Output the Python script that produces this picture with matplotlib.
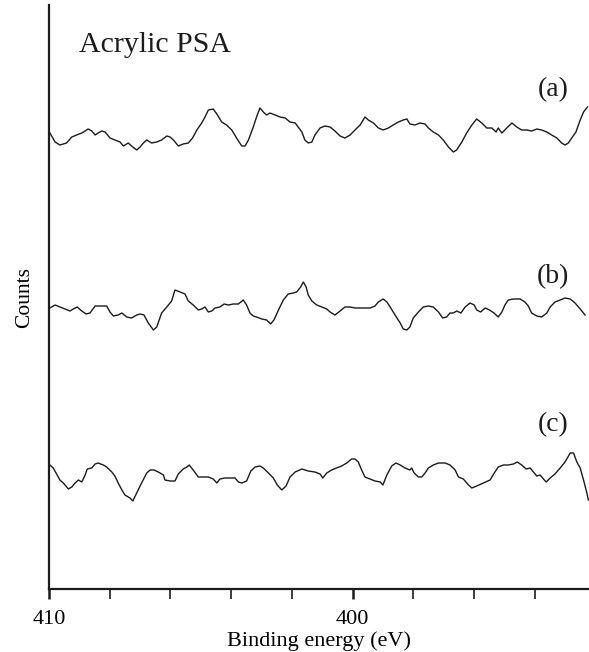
import matplotlib
matplotlib.use('Agg')
import matplotlib.pyplot as plt
from matplotlib.ticker import MultipleLocator

plt.rcParams['font.family'] = ['Liberation Serif', 'DejaVu Serif']

energy_a = [409.97, 409.80, 409.64, 409.42, 409.25, 409.09, 408.92, 408.81, 408.71, 408.59,
            408.48, 408.38, 408.26, 408.15, 407.99, 407.83, 407.66, 407.55, 407.39, 407.24,
            407.11, 407.00, 406.89, 406.78, 406.62, 406.45, 406.29, 406.12, 406.01, 405.90,
            405.74, 405.58, 405.41, 405.27, 405.13, 404.97, 404.86, 404.75, 404.59, 404.45,
            404.31, 404.15, 403.98, 403.82, 403.65, 403.54, 403.43, 403.27, 403.14, 403.05,
            402.94, 402.83, 402.72, 402.55, 402.39, 402.22, 402.06, 401.89,
            401.84, 401.67, 401.57, 401.46, 401.34, 401.24, 401.07, 400.91, 400.74, 400.58,
            400.41, 400.25, 400.08, 399.92, 399.75, 399.59, 399.48, 399.31, 399.15, 398.99,
            398.82, 398.66, 398.49, 398.33, 398.21, 398.11, 397.94, 397.78, 397.61, 397.50,
            397.34, 397.17, 397.01, 396.84, 396.68, 396.57, 396.40, 396.24, 396.07, 395.91,
            395.74, 395.58, 395.41, 395.27, 395.20, 395.08, 394.92, 394.75, 394.59, 394.43,
            394.26, 394.10, 393.93, 393.77, 393.60, 393.44, 393.27, 393.11, 393.00, 392.89,
            392.78, 392.64, 392.50, 392.39, 392.26]
counts_a = [456, 447, 444, 446, 452, 454, 456, 458, 460, 458,
            454, 456, 458, 457, 451, 449, 447, 443, 446, 442,
            439, 442, 446, 449, 446, 447, 449, 453, 452, 449,
            443, 445, 446, 451, 459, 466, 472, 479, 480, 474,
            467, 464, 459, 451, 443, 443, 449, 462, 474, 481,
            477, 474, 476, 474, 472, 471, 467, 466,
            464, 457, 449, 446, 447, 454, 461, 463, 462, 458,
            453, 451, 454, 459, 464, 472, 469, 466, 461, 459,
            461, 464, 467, 469, 470, 465, 464, 466, 465, 461,
            457, 454, 449, 442, 437, 439, 447, 456, 464, 470,
            466, 461, 461, 457, 461, 456, 461, 466, 462, 459,
            459, 458, 460, 459, 457, 454, 451, 446, 444, 446,
            451, 457, 469, 477, 482]

energy_b = [409.97, 409.80, 409.64, 409.47, 409.31, 409.20, 409.07, 408.92, 408.78, 408.65,
            408.48, 408.32, 408.10, 407.99, 407.88, 407.72, 407.60, 407.44, 407.28, 407.11,
            407.00, 406.87, 406.73, 406.56, 406.45, 406.29, 406.12, 405.96, 405.85, 405.68,
            405.52, 405.41, 405.25, 405.08, 404.97, 404.86, 404.75, 404.64, 404.53, 404.37,
            404.23, 404.09, 403.93, 403.76, 403.60, 403.49, 403.38, 403.27, 403.16, 402.99,
            402.83, 402.70, 402.59, 402.44, 402.28, 402.12, 401.95,
            401.84, 401.71, 401.62, 401.53, 401.46, 401.34, 401.18, 401.01, 400.85, 400.74,
            400.58, 400.41, 400.25, 400.08, 399.92, 399.75, 399.59, 399.42, 399.26, 399.15,
            398.99, 398.87, 398.76, 398.60, 398.43, 398.33, 398.21, 398.11, 398.00, 397.83,
            397.67, 397.50, 397.34, 397.17, 397.03, 396.90, 396.79, 396.68, 396.57, 396.43,
            396.29, 396.13, 395.99, 395.91, 395.78, 395.63, 395.49, 395.34, 395.20, 395.08,
            394.98, 394.87, 394.70, 394.48, 394.32, 394.21, 394.10, 393.93, 393.77, 393.60,
            393.49, 393.33, 393.16, 393.00, 392.83, 392.67, 392.50, 392.34]
counts_b = [281, 284, 282, 280, 278, 280, 282, 278, 275, 276,
            283, 283, 283, 277, 273, 274, 276, 272, 271, 274,
            275, 274, 266, 259, 262, 276, 282, 288, 299, 297,
            295, 288, 284, 279, 280, 282, 277, 278, 281, 282,
            285, 284, 285, 285, 289, 284, 276, 273, 272, 270,
            269, 265, 269, 279, 289, 295, 296,
            297, 302, 307, 302, 294, 288, 284, 282, 280, 277,
            274, 278, 282, 282, 281, 281, 281, 281, 283, 287,
            290, 287, 282, 274, 266, 260, 259, 262, 271, 277,
            282, 283, 282, 277, 271, 272, 276, 276, 278, 276,
            282, 286, 284, 279, 277, 281, 279, 276, 272, 277,
            284, 289, 290, 290, 287, 283, 276, 273, 272, 276,
            282, 287, 289, 291, 290, 286, 280, 274]

energy_c = [409.97, 409.86, 409.75, 409.64, 409.53, 409.36, 409.25, 409.14, 409.03, 408.92,
            408.81, 408.74, 408.59, 408.48, 408.38, 408.21, 408.10, 407.93, 407.83, 407.72,
            407.60, 407.50, 407.33, 407.24, 407.11, 406.95, 406.78, 406.67, 406.54, 406.40,
            406.23, 406.18, 406.01, 405.85, 405.74, 405.58, 405.46, 405.38, 405.25, 405.08,
            404.92, 404.75, 404.59, 404.47, 404.37, 404.20, 404.04, 403.87, 403.76, 403.65,
            403.49, 403.35, 403.21, 403.05, 402.94, 402.77, 402.61, 402.48, 402.33, 402.19,
            402.06,
            401.89, 401.67, 401.46, 401.24, 401.07, 400.98, 400.85, 400.69, 400.52, 400.36,
            400.19, 400.03, 399.92, 399.81, 399.70, 399.59, 399.42, 399.26, 399.09, 399.00,
            398.87, 398.71, 398.57, 398.43, 398.27, 398.11, 398.05, 397.97, 397.83, 397.72,
            397.61, 397.50, 397.34, 397.17, 396.95, 396.79, 396.62, 396.51, 396.35, 396.18,
            396.07, 395.91, 395.69, 395.47, 395.31, 395.20, 395.03, 394.87, 394.70, 394.57,
            394.43, 394.28, 394.15, 394.04, 393.93, 393.82, 393.71, 393.62, 393.49, 393.33,
            393.16, 393.00, 392.83, 392.72, 392.61, 392.50, 392.39, 392.28, 392.23]
counts_c = [124, 121, 115, 109, 106, 100, 102, 106, 109, 107,
            114, 120, 121, 125, 126, 124, 122, 117, 113, 106,
            99, 94, 91, 88, 96, 106, 116, 119, 119, 117,
            114, 109, 108, 108, 115, 120, 122, 124, 119, 112,
            112, 112, 110, 106, 110, 111, 111, 111, 107, 106,
            108, 118, 122, 123, 121, 116, 111, 104, 99, 103,
            112,
            117, 120, 118, 117, 115, 111, 116, 119, 121, 123,
            126, 130, 130, 127, 119, 112, 110, 108, 107, 104,
            114, 123, 126, 124, 121, 119, 121, 116, 112, 112,
            116, 121, 124, 126, 126, 124, 119, 112, 110, 104,
            101, 103, 106, 109, 117, 122, 124, 124, 125, 127,
            124, 120, 121, 117, 113, 114, 110, 107, 111, 115,
            121, 127, 136, 136, 127, 121, 109, 96, 89]

labels = ['(a)', '(b)', '(c)']
label_y = [499, 312, 164]

fig = plt.figure(figsize=(5.89, 6.52), dpi=100)
ax = fig.add_axes([49 / 589, 63 / 652, 540 / 589, 584 / 652])

for e, c in [(energy_a, counts_a), (energy_b, counts_b), (energy_c, counts_c)]:
    ax.plot(e, c, color='#1c1c1c', lw=1.0)

for lab, y in zip(labels, label_y):
    ax.text(393.39, y, lab, fontsize=20, ha='center', va='center', color='#1c1c1c')

ax.text(0.056, 0.931, 'Acrylic PSA', transform=ax.transAxes, fontsize=21.5,
        ha='left', va='center', color='#1c1c1c')

ax.set_xlim(410, 392.21)
ax.set_ylim(0, 584)
ax.spines['top'].set_visible(False)
ax.spines['right'].set_visible(False)
for s in ['left', 'bottom']:
    ax.spines[s].set_linewidth(1.6)
    ax.spines[s].set_color('#1c1c1c')

ax.set_xticks([410, 400])
ax.xaxis.set_minor_locator(MultipleLocator(2))
ax.tick_params(axis='x', which='major', direction='out', length=7.5, width=1.8,
               labelsize=16, pad=7.5, color='#1c1c1c')
ax.tick_params(axis='x', which='minor', direction='out', length=7.5, width=1.2,
               color='#1c1c1c')
ax.set_yticks([])

ax.set_xlabel('Binding energy (eV)', fontsize=16, labelpad=1.5)
ax.set_ylabel('Counts', fontsize=15.5, labelpad=11)

fig.savefig('out.png', dpi=100)
